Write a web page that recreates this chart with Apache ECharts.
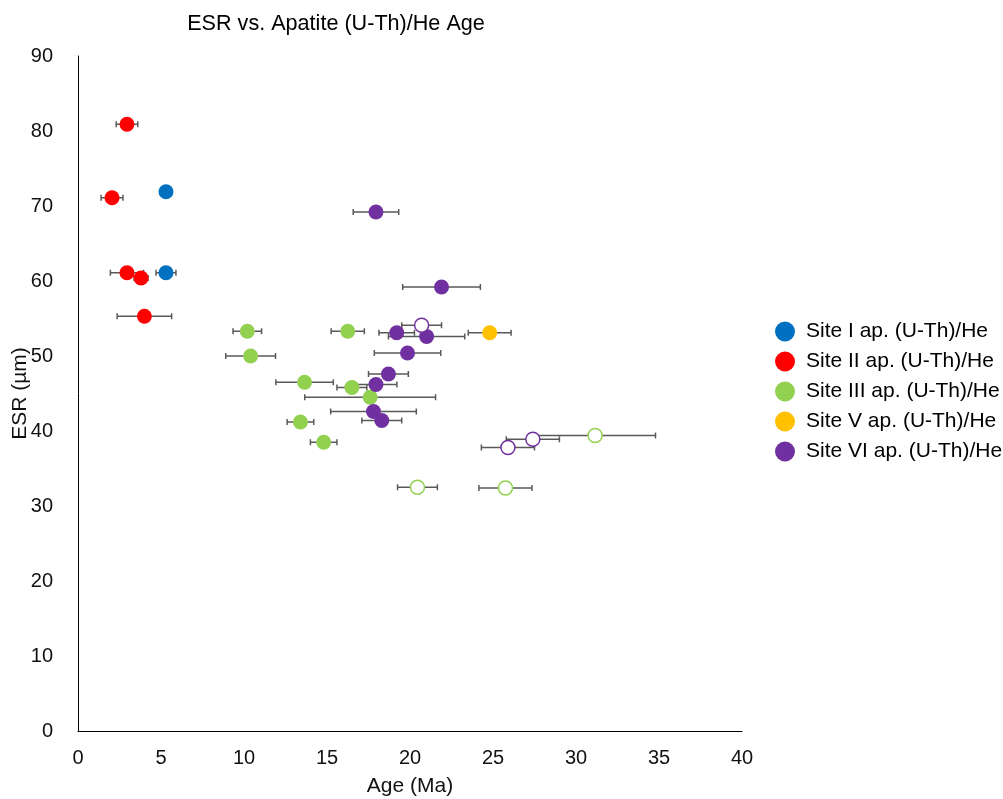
<!DOCTYPE html>
<html>
<head>
<meta charset="utf-8">
<script src="https://cdn.jsdelivr.net/npm/echarts@6/dist/echarts.min.js"></script>
<style>
html,body{margin:0;padding:0;background:#fff;}
#chart{width:1003px;height:799px;}
</style>
</head>
<body>
<div id="chart"></div>
<script>
// Each point: [age (Ma), ESR (µm), age error (±Ma), open marker (1) or filled (0)]
var siteI = [[5.3, 71.9, 0, 0], [5.3, 61.1, 0.6, 0]];
var siteII = [[2.95, 80.9, 0.65, 0], [2.05, 71.1, 0.66, 0], [2.95, 61.1, 1.0, 0], [3.8, 60.4, 0.42, 0], [4.0, 55.3, 1.64, 0]];
var siteIII = [[10.2, 53.3, 0.86, 0], [16.25, 53.3, 1.0, 0], [10.4, 50.0, 1.5, 0], [13.65, 46.5, 1.73, 0], [16.5, 45.8, 0.9, 0], [17.6, 44.5, 3.94, 0], [13.4, 41.2, 0.8, 0], [14.8, 38.5, 0.8, 0], [20.45, 32.5, 1.2, 1], [25.75, 32.4, 1.6, 1], [31.15, 39.4, 3.64, 1]];
var siteV = [[24.8, 53.1, 1.29, 0]];
var siteVI = [[17.95, 69.2, 1.37, 0], [21.9, 59.2, 2.34, 0], [19.2, 53.1, 1.07, 0], [21.0, 52.6, 2.3, 0], [19.85, 50.4, 2.0, 0], [18.7, 47.6, 1.2, 0], [17.95, 46.2, 1.26, 0], [17.8, 42.6, 2.58, 0], [18.3, 41.4, 1.2, 0], [20.7, 54.1, 1.2, 1], [27.4, 38.9, 1.6, 1], [25.9, 37.8, 1.6, 1]];

var siteNames = ['Site I ap. (U-Th)/He', 'Site II ap. (U-Th)/He', 'Site III ap. (U-Th)/He', 'Site V ap. (U-Th)/He', 'Site VI ap. (U-Th)/He'];
var siteColors = ['#0070C0', '#FF0000', '#92D050', '#FFC000', '#7030A0'];
var sites = [siteI, siteII, siteIII, siteV, siteVI];
var xTicks = {min: 0, max: 40, interval: 5};
var yTicks = {min: 0, max: 90, interval: 10};

var chart = echarts.init(document.getElementById('chart'), null, {renderer: 'canvas'});

var series = [];
sites.forEach(function (pts, i) {
  series.push({
    name: siteNames[i] + ' err',
    type: 'custom',
    z: 1,
    silent: true,
    data: pts.filter(function (p) { return p[2] > 0; }).map(function (p) { return [p[0], p[1], p[2]]; }),
    renderItem: function (params, api) {
      var x = api.value(0), y = api.value(1), e = api.value(2);
      var a = api.coord([x - e, y]);
      var b = api.coord([x + e, y]);
      var st = {stroke: '#595959', lineWidth: 1.5};
      return {
        type: 'group',
        children: [
          {type: 'line', shape: {x1: a[0], y1: a[1], x2: b[0], y2: b[1]}, style: st},
          {type: 'line', shape: {x1: a[0], y1: a[1] - 3, x2: a[0], y2: a[1] + 3}, style: st},
          {type: 'line', shape: {x1: b[0], y1: b[1] - 3, x2: b[0], y2: b[1] + 3}, style: st}
        ]
      };
    }
  });
});
sites.forEach(function (pts, i) {
  series.push({
    name: siteNames[i],
    type: 'scatter',
    z: 3,
    symbol: 'circle',
    symbolSize: 15,
    itemStyle: {color: siteColors[i], opacity: 1},
    data: pts.map(function (p) {
      var d = {value: [p[0], p[1]]};
      if (p[3]) {
        d.itemStyle = {color: '#ffffff', borderColor: siteColors[i], borderWidth: 1.5};
        d.symbolSize = 14;
      }
      return d;
    })
  });
});

var ff = '"Liberation Sans", Arial, sans-serif';
var labelStyle = {color: '#111', fontSize: 20, fontFamily: ff};
var nameStyle = {color: '#111', fontSize: 21, fontFamily: ff};

chart.setOption({
  animation: false,
  backgroundColor: '#ffffff',
  title: {
    text: 'ESR vs. Apatite (U-Th)/He Age',
    left: 331,
    textAlign: 'center',
    top: 8,
    textStyle: {color: '#000', fontSize: 21.6, fontWeight: 'normal', fontFamily: ff}
  },
  legend: {
    orient: 'vertical',
    left: 770,
    top: 316,
    itemWidth: 20,
    itemHeight: 20,
    itemGap: 9,
    icon: 'circle',
    data: siteNames,
    textStyle: {color: '#000', fontSize: 21, fontFamily: ff, padding: [0, 0, 0, 6]}
  },
  grid: {left: 78, right: 261, top: 56, bottom: 68, containLabel: false, outerBoundsMode: 'none'},
  xAxis: {
    type: 'value',
    min: xTicks.min, max: xTicks.max, interval: xTicks.interval,
    name: 'Age (Ma)',
    nameLocation: 'middle',
    nameGap: 45,
    nameMoveOverlap: false,
    nameTextStyle: nameStyle,
    axisLine: {show: true, onZero: false, lineStyle: {color: '#000', width: 1}},
    axisTick: {show: false},
    splitLine: {show: false},
    axisLabel: Object.assign({margin: 17}, labelStyle)
  },
  yAxis: {
    type: 'value',
    min: yTicks.min, max: yTicks.max, interval: yTicks.interval,
    name: 'ESR (µm)',
    nameLocation: 'middle',
    nameGap: 47,
    nameMoveOverlap: false,
    nameRotate: 90,
    nameTextStyle: nameStyle,
    axisLine: {show: true, onZero: false, lineStyle: {color: '#000', width: 1}},
    axisTick: {show: false},
    splitLine: {show: false},
    axisLabel: Object.assign({margin: 25}, labelStyle)
  },
  series: series
});
</script>
</body>
</html>
